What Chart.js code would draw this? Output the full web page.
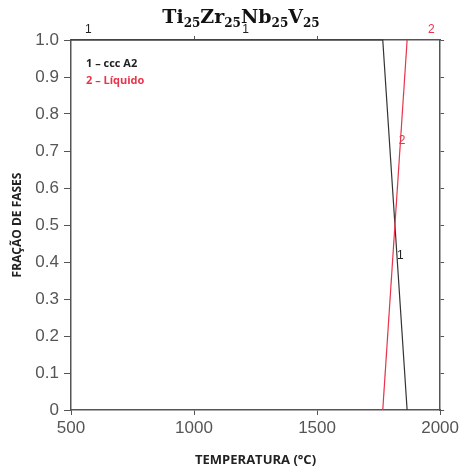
<!DOCTYPE html>
<html>
<head>
<meta charset="utf-8">
<script src="https://cdn.jsdelivr.net/npm/chart.js"></script>
<style>
  body { margin: 0; background: #fff; }
  #wrap { width: 462px; height: 471px; }
</style>
</head>
<body>
<div id="wrap"><canvas id="grafico"></canvas></div>
<script>
const tempCcc = [500, 1767, 1866];
const fracCcc = [1, 1, 0];
const tempLiq = [1767, 1866];
const fracLiq = [0, 1];
const xTicks = [500, 1000, 1500, 2000];
const yTicks = [0, 0.1, 0.2, 0.3, 0.4, 0.5, 0.6, 0.7, 0.8, 0.9, 1.0];
// rótulos das curvas (texto, temperatura, fração, cor)
const rotTexto = ["1", "1", "2", "2", "1"];
const rotTemp = [570, 1210, 1964, 1846, 1838];
const rotFrac = [1.02, 1.02, 1.02, 0.72, 0.41];
const rotCor = ["#222", "#222", "#e8334a", "#e8334a", "#222"];

const pontos = (xs, ys) => xs.map((x, i) => ({ x: x, y: ys[i] }));

const titulo = {
    id: "titulo",
    afterDraw(chart) {
        const c = chart.ctx;
        const partes = [["Ti", 0], ["25", 1], ["Zr", 0], ["25", 1], ["Nb", 0], ["25", 1], ["V", 0], ["25", 1]];
        const fGrande = "bold 19px 'DejaVu Serif', serif";
        const fPeq = "bold 12px 'DejaVu Serif', serif";
        let larg = 0;
        partes.forEach(p => { c.font = p[1] ? fPeq : fGrande; larg += c.measureText(p[0]).width; });
        let x = 241 - larg / 2;
        c.save();
        c.fillStyle = "#111";
        c.textBaseline = "alphabetic";
        partes.forEach(p => {
            c.font = p[1] ? fPeq : fGrande;
            c.fillText(p[0], x, p[1] ? 27 : 23);
            x += c.measureText(p[0]).width;
        });
        c.restore();
    }
};

const rotulos = {
    id: "rotulos",
    afterDatasetsDraw(chart) {
        const c = chart.ctx;
        const sx = chart.scales.x, sy = chart.scales.y;
        c.save();
        c.font = "12px 'Liberation Sans', Arial, sans-serif";
        c.textAlign = "center";
        c.textBaseline = "middle";
        rotTexto.forEach((t, i) => {
            c.fillStyle = rotCor[i];
            c.fillText(t, sx.getPixelForValue(rotTemp[i]), sy.getPixelForValue(rotFrac[i]) - 3);
        });
        // legenda
        c.textAlign = "left";
        c.font = "bold 11px 'Open Sans', sans-serif";
        c.fillStyle = "#222";
        c.fillText("1 – ccc A2", 86, 64);
        c.fillStyle = "#e8334a";
        c.fillText("2 – Líquido", 86, 81);
        c.restore();
    }
};

const corEixo = "#555";
const fonteTick = { family: "'Liberation Sans', Arial, sans-serif", size: 17 };

new Chart(document.getElementById("grafico"), {
    type: "scatter",
    data: {
        datasets: [
            {
                label: "2 – Líquido",
                data: pontos(tempLiq, fracLiq),
                showLine: true,
                borderColor: "#e8334a",
                borderWidth: 1.2,
                pointRadius: 0,
                clip: false
            },
            {
                label: "1 – ccc A2",
                data: pontos(tempCcc, fracCcc),
                showLine: true,
                borderColor: "#333",
                borderWidth: 1.2,
                pointRadius: 0,
                clip: false
            }
        ]
    },
    options: {
        responsive: true,
        maintainAspectRatio: false,
        animation: false,
        layout: { padding: 0 },
        plugins: {
            legend: { display: false },
            tooltip: { enabled: false }
        },
        scales: {
            x: {
                type: "linear",
                position: "bottom",
                min: 500,
                max: 2000,
                afterBuildTicks: s => { s.ticks = xTicks.map(v => ({ value: v })); },
                afterFit: s => { s.height = 61; },
                border: { color: corEixo, width: 1.5 },
                grid: { drawOnChartArea: false, color: corEixo, tickLength: 5 },
                ticks: { color: "#555", font: fonteTick, padding: 3, maxRotation: 0, callback: v => String(v) },
                title: {
                    display: true,
                    text: "TEMPERATURA (°C)",
                    color: "#222",
                    font: { family: "'Open Sans', sans-serif", size: 13, weight: "bold" },
                    padding: { top: 2, bottom: 3 }
                }
            },
            x2: {
                type: "linear",
                position: "top",
                min: 500,
                max: 2000,
                afterBuildTicks: s => { s.ticks = [1000, 1500].map(v => ({ value: v })); },
                afterFit: s => { s.height = 40; },
                border: { color: corEixo, width: 1.5 },
                grid: { drawOnChartArea: false, color: corEixo, tickLength: 4 },
                ticks: { display: false }
            },
            y: {
                type: "linear",
                position: "left",
                min: 0,
                max: 1,
                afterBuildTicks: s => { s.ticks = yTicks.map(v => ({ value: v })); },
                afterFit: s => { s.width = 71; },
                border: { color: corEixo, width: 1.5 },
                grid: { drawOnChartArea: false, color: corEixo, tickLength: 7 },
                ticks: {
                    color: "#555",
                    font: fonteTick,
                    padding: 5,
                    callback: v => (v === 0 ? "0" : v.toFixed(1))
                },
                title: {
                    display: true,
                    text: "FRAÇÃO DE FASES",
                    color: "#222",
                    font: { family: "'Open Sans', sans-serif", size: 12, weight: "bold" },
                    padding: { top: 10, bottom: 0 }
                }
            },
            y2: {
                type: "linear",
                position: "right",
                min: 0,
                max: 1,
                afterBuildTicks: s => { s.ticks = yTicks.map(v => ({ value: v })); },
                afterFit: s => { s.width = 21; },
                border: { color: corEixo, width: 1.5 },
                grid: { drawOnChartArea: false, color: corEixo, tickLength: 4 },
                ticks: { display: false }
            }
        }
    },
    plugins: [titulo, rotulos]
});
</script>
</body>
</html>
